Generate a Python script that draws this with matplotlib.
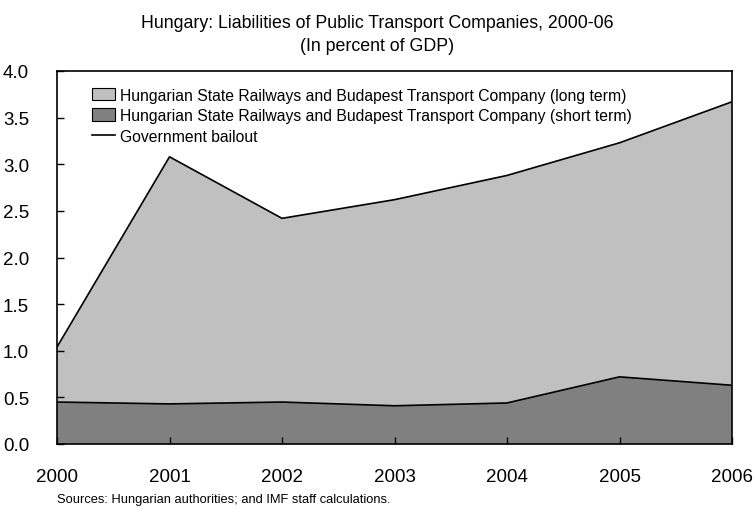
import matplotlib.pyplot as plt
from matplotlib.patches import Patch
from matplotlib.lines import Line2D

plt.rcParams['font.family'] = ['Liberation Sans', 'DejaVu Sans']

years = [2000, 2001, 2002, 2003, 2004, 2005, 2006]
short_term = [0.45, 0.43, 0.45, 0.41, 0.44, 0.72, 0.63]
long_term = [0.59, 2.65, 1.97, 2.21, 2.44, 2.51, 3.04]
bailout = [s + l for s, l in zip(short_term, long_term)]

light = '#C0C0C0'
dark = '#808080'

fig = plt.figure(figsize=(7.55, 5.1), dpi=100)
ax = fig.add_axes([57 / 755, 1 - 445 / 510, 675 / 755, 373 / 510])

ax.stackplot(years, short_term, long_term, colors=[dark, light], linewidth=0)
ax.plot(years, short_term, color='black', linewidth=1.2)
ax.plot(years, bailout, color='black', linewidth=1.2)

ax.set_xlim(2000, 2006)
ax.set_ylim(0, 4.0)
ax.set_xticks(years)
ax.set_yticks([i * 0.5 for i in range(9)])
ax.set_yticklabels(['%.1f' % (i * 0.5) for i in range(9)])
ax.tick_params(axis='both', direction='in', labelsize=13.5, length=5, width=1)
ax.tick_params(axis='x', pad=17)
ax.tick_params(axis='y', pad=20)
for s in ax.spines.values():
    s.set_linewidth(1.2)

handles = [
    Patch(facecolor=light, edgecolor='black', linewidth=0.8),
    Patch(facecolor=dark, edgecolor='black', linewidth=0.8),
    Line2D([0], [0], color='black', linewidth=1.2),
]
labels = [
    'Hungarian State Railways and Budapest Transport Company (long term)',
    'Hungarian State Railways and Budapest Transport Company (short term)',
    'Government bailout',
]
ax.legend(handles, labels, loc='upper left', bbox_to_anchor=(0.035, 0.985),
          frameon=False, fontsize=11.3, handlelength=1.5, handleheight=0.85,
          handletextpad=0.3, labelspacing=0.35, borderaxespad=0.3)

fig.text(0.5, 0.953, 'Hungary: Liabilities of Public Transport Companies, 2000-06',
         ha='center', va='center', fontsize=12.8)
fig.text(0.5, 0.908, '(In percent of GDP)', ha='center', va='center', fontsize=12.8)
fig.text(57 / 755, 1 - 500 / 510, 'Sources: Hungarian authorities; and IMF staff calculations.',
         ha='left', va='center', fontsize=9.3)

fig.savefig('out.png', dpi=100)
